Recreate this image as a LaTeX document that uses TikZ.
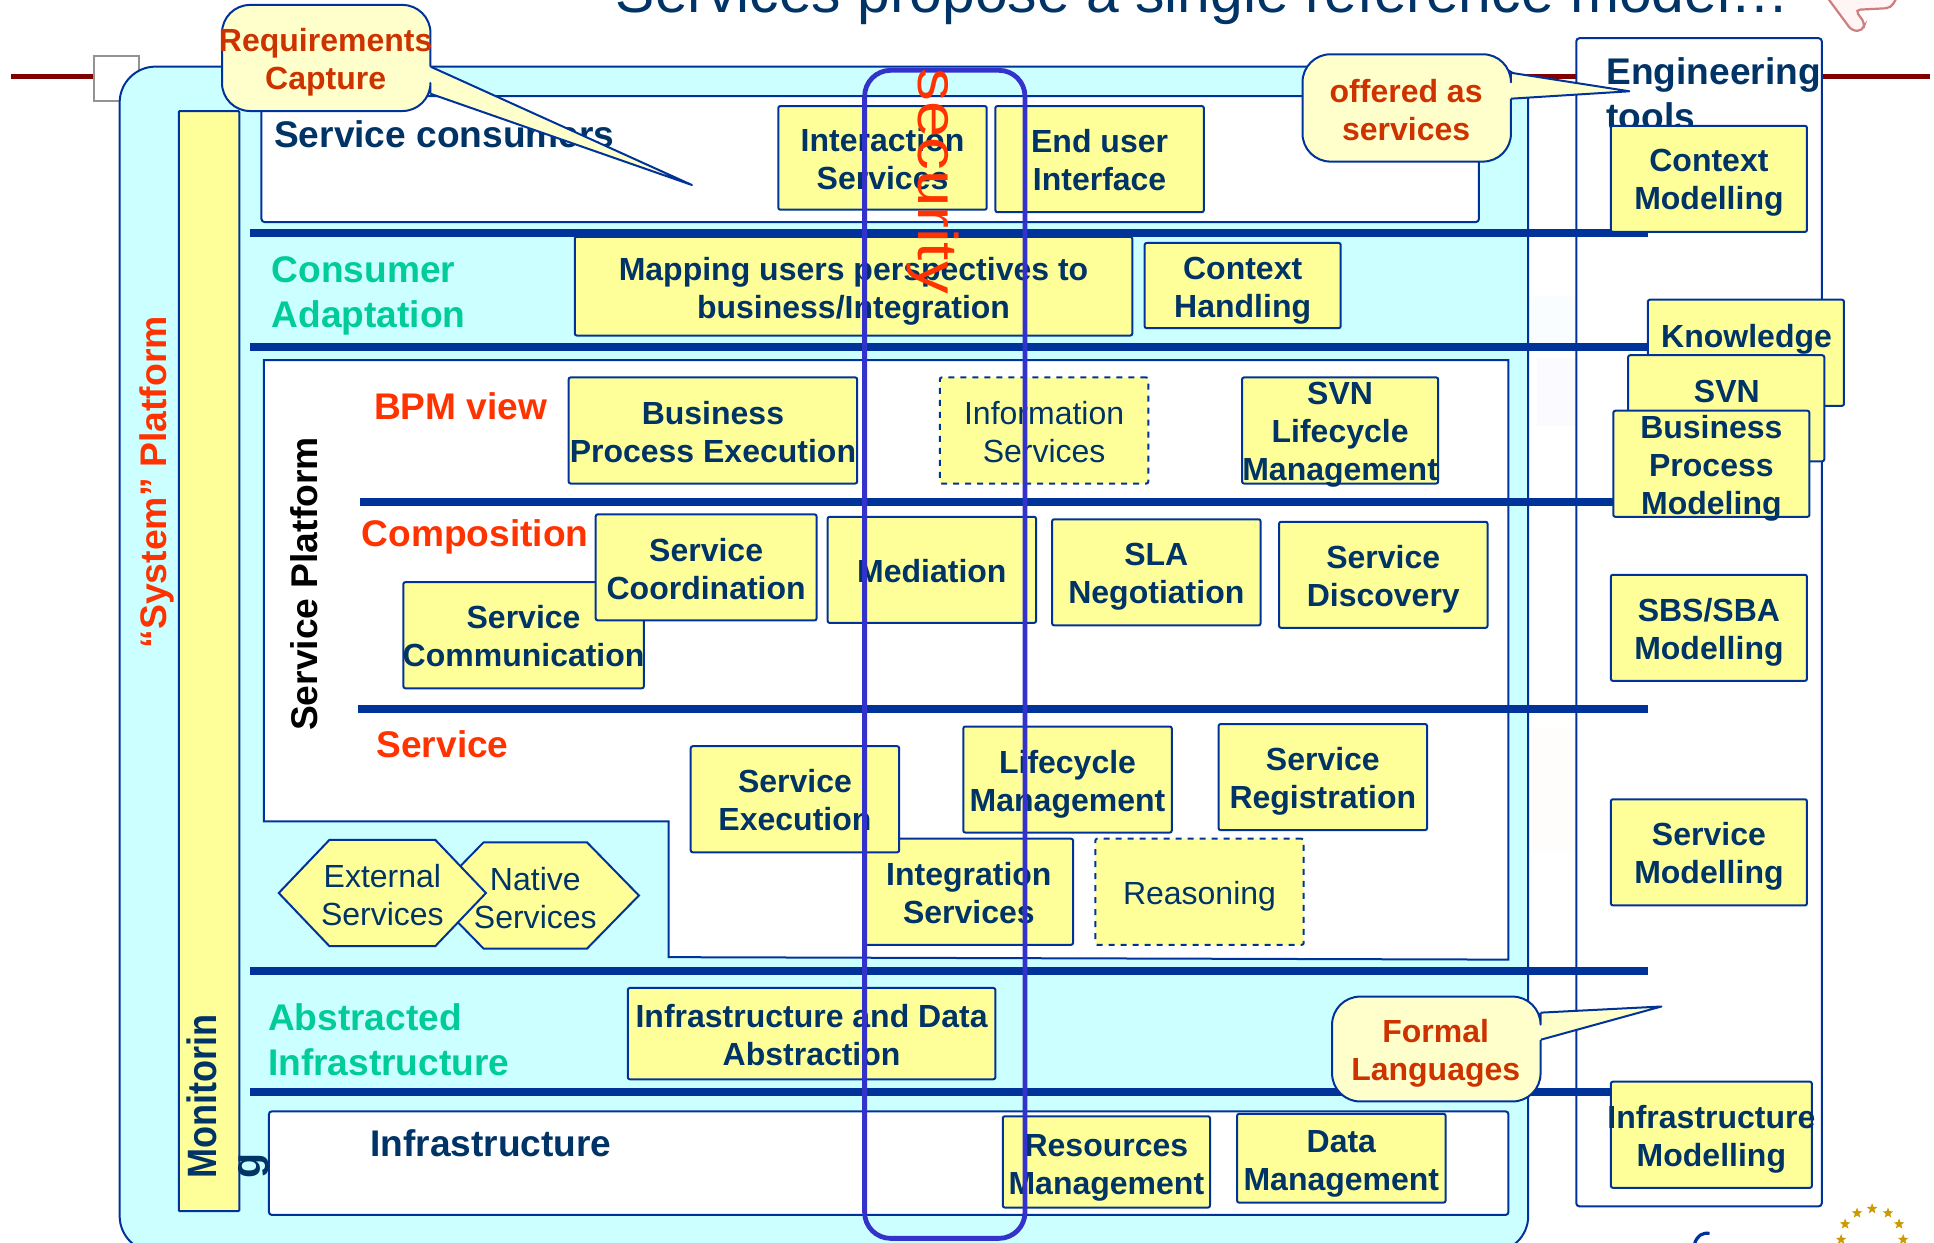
\documentclass[tikz,border=0pt]{standalone}
\usepackage{fontspec}
\setmainfont{Liberation Sans}
\usetikzlibrary{calc,shapes.geometric}
\definecolor{navy}{HTML}{003366}
\definecolor{edge}{HTML}{003399}
\definecolor{panel}{HTML}{CCFFFF}
\definecolor{boxy}{HTML}{FFFF99}
\definecolor{cally}{HTML}{FFFFCC}
\definecolor{redt}{HTML}{FF3300}
\definecolor{callt}{HTML}{CC3300}
\definecolor{greent}{HTML}{00CC99}
\definecolor{secu}{HTML}{3333CC}
\definecolor{darkred}{HTML}{800000}
\definecolor{gold}{HTML}{CC9900}
\def\dy{3.5}
\newcommand{\boxat}[7][ybox]{\node[#1,minimum width=#4*0.6167pt-#2*0.6167pt,minimum height=#5*0.6167pt-#3*0.6167pt] (#6) at ({(#2+#4)/2},{(#3+#5)/2}) {};
 \node[boxtext] (#6t) at ({(#2+#4)/2},{(#3+#5)/2+\dy}) {#7};}
\tikzset{
 x=0.6167pt,y=-0.6167pt,
 ybox/.style={draw=edge,fill=boxy,line width=1pt,rounded corners=1pt,inner sep=0pt},
 dbox/.style={ybox,dashed},
 boxtext/.style={inner sep=0pt,align=center,text=navy,font=\fontsize{16}{19}\selectfont\bfseries},
 wbox/.style={draw=edge,fill=white,line width=1pt,rounded corners=1.5pt,inner sep=0pt},
 sep/.style={line width=4pt,draw=edge},
 lab/.style={anchor=west,inner sep=0pt,align=left,font=\fontsize{18.55}{22.5}\selectfont\bfseries},
 call/.style={draw=edge,fill=cally,line width=1pt,line join=round},
 calltext/.style={align=center,inner sep=0pt,text=callt,font=\fontsize{16}{19}\selectfont\bfseries},
 hexa/.style={draw=edge,fill=boxy,line width=1pt},
 starry/.style={star,star points=5,star point ratio=2.4,fill=gold,minimum size=5.6pt,inner sep=0pt},
}
\begin{document}
\begin{tikzpicture}
\useasboundingbox (0,0) rectangle (1568,1007);
\clip (0,0) rectangle (1568,1007);
\fill[white] (0,0) rectangle (1568,1007);
% faint background traces
\fill[blue!2] (1246,290) rectangle (1278,345);
\fill[cyan!2] (1240,240) rectangle (1278,280);
\fill[red!1] (1240,590) rectangle (1278,690);
% title and line
\node[anchor=base west,inner sep=0pt,text=navy,font=\fontsize{29.4}{32}\selectfont] (title) at (499,10) {Services propose a single reference model…};
\coordinate (lineL) at (9,62); \coordinate (lineR) at (1565,62);
\draw[darkred,line width=2.2pt] (lineL) -- (lineR);
\node[draw=gray!85,fill=white,line width=1pt,inner sep=0pt,minimum width=37*0.6167pt,minimum height=37*0.6167pt] (corner) at (94.5,63.5) {};
% top-right pointer and bottom-right marks
\draw[draw=red!45!gray!70,fill=red!4,line width=1.1pt,rounded corners=2.5pt] (1480,-4) -- (1501.5,25) -- (1510,25) -- (1512,19) -- (1504,8) -- (1533,6.5) -- (1539,-4);
\foreach \sx/\sy [count=\si] in {1505.6/983.5,1517.8/980,1530.7/983.5,1539.7/992.4,1495.9/992.4,1492.7/1005,1543/1005}{\node[starry] (st\si) at (\sx,\sy) {};}
\draw[edge,line width=1.6pt] (1374,1008) .. controls (1376,1002) and (1380,999) .. (1386,1000);
% main panel
\draw[draw=edge,fill=panel,line width=1pt,rounded corners=18pt] (97,54) rectangle (1239,1015);
\boxat[wbox]{212}{78}{1199}{180}{consumers}{}
\boxat[wbox]{218}{901}{1223}{985}{infra}{}
\boxat[ybox,rounded corners=0.5pt]{145}{90}{194}{982}{mon}{}
\node[rotate=90,anchor=north west,inner sep=0pt,align=left,text=navy,font=\fontsize{20.5}{22}\selectfont\bfseries] (montext) at (151,956) {\addfontfeature{FakeStretch=0.88}Monitorin\\g};
\node[rotate=90,inner sep=0pt,text=redt,font=\fontsize{18.5}{22}\selectfont\bfseries] (sys) at (127,391) {\addfontfeature{FakeStretch=1.01}“System” Platform};
% service platform
\draw[draw=edge,fill=white,line width=1pt] (214,292) -- (1223,292) -- (1223,778) -- (542,776) -- (542,666) -- (214,666) -- cycle;
\node[rotate=90,inner sep=0pt,text=black,font=\fontsize{18.6}{22}\selectfont\bfseries] (sp) at (247,473.5) {Service Platform};
% engineering
\boxat[wbox]{1278}{31}{1477}{978}{eng}{}
\node[lab,text=navy,anchor=north west] (engt) at (1302,46) {Engineering\\tools};
% separators
\foreach \ya/\xa [count=\sn] in {189/203,281/203,407/292,575/290,787.5/203,885.5/203}{\coordinate (a\sn) at (\xa,\ya); \coordinate (b\sn) at (1336,\ya); \draw[sep] (a\sn) -- (b\sn);}
% labels
\node[lab,text=navy] (sc) at (222,109) {Service consumers};
\node[lab,text=greent] (ca) at (220,240) {Consumer\\Adaptation};
\node[lab,text=redt] (bpm) at (303,329) {BPM view};
\node[lab,text=redt] (comp) at (293,435) {Composition};
\node[lab,text=redt] (svc) at (305,603) {Service};
\node[lab,text=greent] (ai) at (217,843) {Abstracted\\Infrastructure};
\node[lab,text=navy] (inf) at (300,927) {Infrastructure};
% boxes
\def\dy{1}
\boxat{631}{86}{800}{170}{b1}{Interaction\\Services}
\boxat{807}{86}{976}{172}{b2}{End user\\Interface}
\def\dy{4}
\boxat{466}{192}{918}{272}{b3}{Mapping users perspectives to\\business/Integration}
\boxat{928}{197}{1087}{266}{b4}{Context\\Handling}
\def\dy{1}
\boxat{461}{306}{695}{392}{b5}{Business\\Process Execution}
\boxat[dbox]{762}{306}{931}{392}{b6}{\mdseries Information\\\mdseries Services}
\def\dy{3.5}
\boxat{1007}{306}{1166}{392}{b7}{SVN\\Lifecycle\\Management}
\def\dy{1}
\boxat{327}{472}{522}{558}{b9}{Service\\Communication}
\boxat{483}{417}{662}{503}{b8}{Service\\Coordination}
\boxat{671}{419}{840}{505}{b10}{Mediation}
\def\dy{3.5}
\boxat{853}{421}{1022}{507}{b11}{SLA\\Negotiation}
\boxat{1037}{423}{1206}{509}{b12}{Service\\Discovery}
\def\dy{1}
\boxat{701}{680}{870}{766}{b16}{Integration\\Services}
\boxat{560}{605}{729}{691}{b13}{Service\\Execution}
\def\dy{3.5}
\boxat{781}{589}{950}{675}{b14}{Lifecycle\\Management}
\boxat{988}{587}{1157}{673}{b15}{Service\\Registration}
\boxat[dbox]{888}{680}{1057}{766}{b17}{\mdseries Reasoning}
% hexagons
\draw[hexa] (350,726) -- (392,683) -- (476,683) -- (518,726) -- (476,769) -- (392,769) -- cycle;
\node[align=center,inner sep=0pt,text=navy,font=\fontsize{16}{19}\selectfont] (hn) at (434,728) {Native\\Services};
\draw[hexa] (226,724) -- (267,681) -- (353,681) -- (394,724) -- (353,767) -- (267,767) -- cycle;
\node[align=center,inner sep=0pt,text=navy,font=\fontsize{16}{19}\selectfont] (he) at (310,726) {External\\Services};
\def\dy{1}
\boxat{509}{801}{807}{875}{b18}{Infrastructure and Data\\Abstraction}
\def\dy{4.5}
\boxat{813}{905}{981}{979}{b19}{Resources\\Management}
\boxat{1003}{903}{1172}{975}{b20}{Data\\Management}
\def\dy{3.5}
% right column
\boxat{1306}{102}{1465}{188}{r1}{Context\\Modelling}
\boxat{1336}{243}{1495}{329}{r2}{}
\node[boxtext] (r2t) at (1416,275) {Knowledge};
\boxat{1320}{288}{1479}{374}{r3}{}
\node[boxtext] (r3t) at (1400,317) {SVN};
\boxat{1308}{333}{1467}{419}{r4}{Business\\Process\\Modeling}
\boxat{1306}{466}{1465}{552}{r5}{SBS/SBA\\Modelling}
\boxat{1306}{648}{1465}{734}{r6}{Service\\Modelling}
\boxat{1306}{877}{1469}{963}{r7}{Infrastructure\\Modelling}
% callouts
\draw[call] (349,54) -- (561,150) -- (349,76);
\draw[call,rounded corners=14pt] (349,76) -- (349,90) -- (180,90) -- (180,4) -- (349,4) -- (349,54);
\node[calltext] (c1) at (264,50.5) {Requirements\\Capture};
\draw[call] (1225,59) -- (1321,74) -- (1225,80);
\draw[call,rounded corners=14pt] (1225,80) -- (1225,131) -- (1056,131) -- (1056,44) -- (1225,44) -- (1225,59);
\node[calltext] (c2) at (1140,89) {offered as\\services};
\draw[call] (1249,821) -- (1347,816) -- (1249,843);
\draw[call,rounded corners=14pt] (1249,843) -- (1249,893) -- (1080,893) -- (1080,808) -- (1249,808) -- (1249,821);
\node[calltext] (c3) at (1164,854) {Formal\\Languages};
% security
\draw[secu,line width=2.4pt,rounded corners=13pt] (701,57) rectangle (831,1004);
\coordinate (secanchor) at (745,55);
\node[rotate=-90,anchor=base west,inner sep=0pt,text=redt,font=\fontsize{28}{30}\selectfont] (sec) at (secanchor) {\addfontfeature{FakeStretch=1.17}security};
\end{tikzpicture}
\end{document}
